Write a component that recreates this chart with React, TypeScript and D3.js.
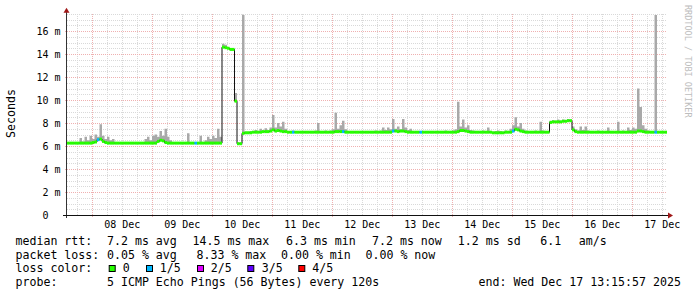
import React from 'react';
import * as d3 from 'd3';

const START = Date.UTC(2025, 11, 7, 13, 53);
const HOUR = 3600000;
const N_HOURS = 240;
const END = START + N_HOURS * HOUR;

// median rtt (ms), one value per hour, rows = 24h starting Dec 7 13:53
const median: number[] = [
  6.25, 6.25, 6.25, 6.25, 6.25, 6.25, 6.25, 6.25, 6.25, 6.25, 6.3, 6.35, 6.55, 6.6, 6.4, 6.3, 6.25, 6.25, 6.25, 6.25, 6.25, 6.25, 6.25, 6.25,
  6.25, 6.25, 6.25, 6.25, 6.25, 6.25, 6.25, 6.25, 6.25, 6.25, 6.25, 6.25, 6.4, 6.5, 6.45, 6.3, 6.25, 6.25, 6.25, 6.25, 6.25, 6.25, 6.25, 6.25,
  6.25, 6.25, 6.25, 6.25, 6.25, 6.25, 6.25, 6.25, 6.25, 6.25, 6.25, 6.25, 6.25, 6.25, 14.6, 14.55, 14.5, 14.4, 14.4, 9.9, 6.2, 6.2, 7.1, 7.15,
  7.15, 7.15, 7.2, 7.2, 7.2, 7.2, 7.25, 7.25, 7.25, 7.3, 7.4, 7.3, 7.35, 7.3, 7.25, 7.25, 7.2, 7.2, 7.2, 7.2, 7.2, 7.2, 7.2, 7.2,
  7.2, 7.2, 7.2, 7.2, 7.2, 7.2, 7.2, 7.2, 7.2, 7.2, 7.2, 7.25, 7.25, 7.25, 7.25, 7.2, 7.2, 7.2, 7.2, 7.2, 7.2, 7.2, 7.2, 7.2,
  7.2, 7.2, 7.2, 7.2, 7.2, 7.2, 7.2, 7.2, 7.2, 7.2, 7.3, 7.3, 7.25, 7.3, 7.3, 7.25, 7.2, 7.2, 7.2, 7.2, 7.2, 7.2, 7.2, 7.2,
  7.2, 7.2, 7.2, 7.2, 7.2, 7.2, 7.2, 7.2, 7.2, 7.2, 7.2, 7.2, 7.25, 7.35, 7.35, 7.3, 7.25, 7.2, 7.2, 7.2, 7.2, 7.2, 7.2, 7.2,
  7.2, 7.2, 7.15, 7.15, 7.15, 7.15, 7.15, 7.2, 7.2, 7.2, 7.3, 7.45, 7.4, 7.3, 7.25, 7.2, 7.2, 7.2, 7.2, 7.2, 7.2, 7.2, 7.2, 7.2,
  7.2, 8.05, 8.1, 8.1, 8.1, 8.1, 8.15, 8.15, 8.2, 8.2, 7.4, 7.25, 7.2, 7.2, 7.2, 7.2, 7.2, 7.2, 7.2, 7.2, 7.2, 7.2, 7.2, 7.2,
  7.2, 7.2, 7.2, 7.2, 7.2, 7.2, 7.2, 7.2, 7.2, 7.2, 7.2, 7.2, 7.3, 7.3, 7.25, 7.2, 7.2, 7.2, 7.2, 7.2, 7.2, 7.2, 7.2, 7.2,
];

// top of the ping smoke (ms), one value per hour
const smokeMax: number[] = [
  6.3, 6.3, 6.35, 6.3, 6.35, 6.7, 6.4, 6.8, 6.5, 6.9, 6.6, 7.0, 6.8, 7.9, 6.9, 6.6, 6.8, 6.5, 6.6, 6.35, 6.3, 6.3, 6.3, 6.35,
  6.3, 6.35, 6.3, 6.3, 6.35, 6.3, 6.35, 6.6, 6.8, 6.5, 6.9, 7.0, 6.8, 7.3, 6.9, 7.5, 6.8, 6.5, 6.35, 6.3, 6.35, 6.3, 6.3, 6.35,
  7.1, 6.35, 6.3, 6.35, 6.3, 6.9, 6.35, 6.5, 6.8, 6.6, 6.9, 6.7, 7.5, 6.8, 14.9, 14.8, 14.6, 14.5, 14.45, 10.6, 6.3, 6.3, 17.4, 7.25,
  7.25, 7.3, 7.3, 7.4, 7.3, 7.5, 7.3, 7.55, 7.35, 7.6, 8.7, 7.6, 8.0, 7.7, 8.1, 7.5, 7.3, 7.3, 7.35, 7.3, 7.3, 7.25, 7.3, 7.3,
  7.3, 7.25, 7.3, 7.35, 8.0, 7.3, 7.3, 7.35, 7.3, 7.35, 7.45, 8.9, 7.5, 7.8, 8.2, 7.45, 7.3, 7.25, 7.3, 7.3, 7.25, 7.3, 7.25, 7.3,
  7.3, 7.25, 7.3, 7.35, 7.3, 7.35, 7.6, 7.4, 7.6, 7.45, 8.35, 7.5, 7.7, 7.45, 8.35, 7.6, 7.4, 7.5, 7.3, 7.25, 7.3, 7.3, 7.25, 7.3,
  7.3, 7.25, 7.3, 7.25, 7.3, 7.25, 7.3, 7.35, 7.3, 7.25, 7.35, 7.45, 9.85, 7.7, 8.3, 7.6, 7.8, 7.4, 7.35, 7.3, 7.25, 7.3, 7.35, 7.3,
  7.6, 7.3, 7.25, 7.3, 7.35, 7.3, 7.25, 7.35, 7.3, 7.5, 7.8, 8.5, 7.7, 8.0, 7.5, 7.35, 7.3, 7.25, 7.3, 7.35, 7.3, 8.1, 7.35, 7.3,
  7.3, 8.2, 8.25, 8.15, 8.3, 8.2, 8.3, 8.25, 8.35, 8.3, 7.7, 7.45, 7.35, 7.7, 7.4, 7.7, 7.35, 7.3, 7.25, 7.3, 7.35, 7.3, 7.25, 7.3,
  7.6, 7.3, 7.25, 7.3, 8.1, 7.3, 7.35, 7.3, 7.6, 7.4, 7.6, 7.5, 11.0, 9.4, 7.8, 7.5, 7.35, 7.3, 7.25, 17.4, 7.3, 7.25, 7.3, 7.25,
];

// hours (index) where 1 of 5 pings was lost
const lossHours: number[] = [12, 51, 90, 110, 130, 141, 178, 235];

const yTicks: number[] = [0, 2, 4, 6, 8, 10, 12, 14, 16];
const yTickLabels: string[] = ['0', '2 m', '4 m', '6 m', '8 m', '10 m', '12 m', '14 m', '16 m'];

const legendHeads: string[] = ['median rtt:', 'packet loss:', 'loss color:', 'probe:'];
const rttStats: string[] = ['7.2 ms avg', '14.5 ms max', '6.3 ms min', '7.2 ms now', '1.2 ms sd', '6.1', 'am/s'];
const lossStats: string[] = ['0.05 % avg', '8.33 % max', '0.00 % min', '0.00 % now'];
const lossLabels: string[] = ['0', '1/5', '2/5', '3/5', '4/5'];
const lossColors: string[] = ['#26ff00', '#00b8ff', '#dd00ff', '#5e00ff', '#ff0000'];
const probeText = '5 ICMP Echo Pings (56 Bytes) every 120s';
const endText = 'end: Wed Dec 17 13:15:57 2025';

const PL = 67, PR = 667, PB = 215, PT = 13.75;
const MONO = '"DejaVu Sans Mono", monospace';

type P = { t: number; m: number; s: number };

export default function App() {
  const x = d3.scaleUtc().domain([new Date(START), new Date(END)]).range([PL, PR]);
  const y = d3.scaleLinear().domain([0, 17.5]).range([PB, PT]);

  const pts: P[] = median.map((m, i) => ({ t: START + i * HOUR, m, s: smokeMax[i] }));
  const ptsEnd: P[] = [...pts, { t: END, m: median[N_HOURS - 1], s: smokeMax[N_HOURS - 1] }];

  const smoke = d3.area<P>()
    .x(d => x(new Date(d.t)))
    .y0(d => y(d.m - 0.05))
    .y1(d => y(d.s))
    .curve(d3.curveStepAfter)(ptsEnd) || '';
  const medLine = d3.line<P>()
    .x(d => x(new Date(d.t)))
    .y(d => y(d.m))
    .curve(d3.curveStepAfter)(ptsEnd) || '';

  const days = d3.utcDay.range(new Date(START), new Date(END));
  const sixH = d3.utcHour.every(6)!.range(new Date(START), new Date(END)).filter(d => d.getUTCHours() !== 0);
  const fmt = d3.utcFormat('%d %b');

  const minorY: number[] = d3.range(1, 36).map(k => k * 0.5).filter(v => v % 2 !== 0);
  const majorY = yTicks.filter(v => v > 0);

  const crisp = (v: number) => Math.round(v) + 0.5;

  const rttX = [107, 192.5, 286, 372, 457.8, 540.2, 578.8];
  const lossX = [107, 196.5, 281, 365.5];
  const boxX = [108.7, 146, 197, 247.3, 298.3];
  const boxLabelX = [122.8, 159.8, 210.8, 261.8, 312.2];
  const rowY = [245, 258.7, 272.3, 286];

  return (
    <svg width={697} height={297} style={{ position: 'absolute', left: 0, top: 0, background: '#fff' }}>
      <rect x={0} y={0} width={697} height={297} fill="#fff" />
      {/* grid */}
      <g shapeRendering="crispEdges" strokeWidth={1}>
        {minorY.map(v => (
          <line key={'my' + v} x1={PL} x2={PR} y1={crisp(y(v))} y2={crisp(y(v))} stroke="#d9d9d9" strokeDasharray="1,1" />
        ))}
        {sixH.map(d => (
          <line key={'mx' + d.getTime()} x1={crisp(x(d))} x2={crisp(x(d))} y1={PB} y2={PT} stroke="#d9d9d9" strokeDasharray="1,1" />
        ))}
        {majorY.map(v => (
          <line key={'My' + v} x1={PL - 2} x2={PR} y1={crisp(y(v))} y2={crisp(y(v))} stroke="#efb0b0" strokeDasharray="1,1" />
        ))}
        {days.map(d => (
          <line key={'Mx' + d.getTime()} x1={crisp(x(d))} x2={crisp(x(d))} y1={PB + 2} y2={PT} stroke="#efb0b0" strokeDasharray="1,1" />
        ))}
      </g>
      {/* smoke */}
      <path d={smoke} fill="#a9a9a9" />
      {/* median line */}
      <path d={medLine} fill="none" stroke="#111" strokeWidth={1} />
      {pts.map((p, i) => (
        <line
          key={'g' + i}
          x1={x(new Date(p.t))}
          x2={x(new Date(p.t + HOUR))}
          y1={y(p.m)}
          y2={y(p.m)}
          stroke={lossHours.includes(i) ? lossColors[1] : lossColors[0]}
          strokeWidth={3}
        />
      ))}
      {/* axes */}
      <g shapeRendering="crispEdges">
        <line x1={PL - 0.5} x2={PL - 0.5} y1={PB + 3} y2={PT - 2} stroke="#333" />
        <line x1={PL - 4} x2={PR + 1} y1={PB + 0.5} y2={PB + 0.5} stroke="#111" />
      </g>
      <path d={`M${PL - 3.5},${PT - 1} L${PL + 2.5},${PT - 1} L${PL - 0.5},${PT - 6} Z`} fill="#a01818" />
      <path d={`M${PR + 1},${PB - 2.5} L${PR + 1},${PB + 3.5} L${PR + 6},${PB + 0.5} Z`} fill="#a01818" />
      {/* y labels */}
      {yTicks.map((v, k) => (
        <text key={'yl' + v} x={v === 0 ? 48.5 : 60.5} y={y(v) + 4} textAnchor="end" fontFamily={MONO} fontSize={10} fill="#000">
          {yTickLabels[k]}
        </text>
      ))}
      {/* x labels */}
      {days.map(d => (
        <text key={'xl' + d.getTime()} x={x(d3.utcHour.offset(d, 12))} y={228} textAnchor="middle" fontFamily={MONO} fontSize={10} fill="#000">
          {fmt(d)}
        </text>
      ))}
      {/* y title */}
      <text transform="translate(15.3,113.5) rotate(-90)" textAnchor="middle" fontFamily={MONO} fontSize={11.6} fill="#000">Seconds</text>
      {/* watermark */}
      <text transform="translate(685,5) rotate(90)" fontFamily={MONO} fontSize={8.5} fill="#bdbdbd">RRDTOOL / TOBI OETIKER</text>
      {/* legend */}
      <g fontFamily={MONO} fontSize={11.6} fill="#000" style={{ whiteSpace: 'pre' }}>
        {legendHeads.map((h, k) => (
          <text key={'lh' + k} x={15.5} y={rowY[k]}>{h}</text>
        ))}
        {rttStats.map((s, k) => (
          <text key={'rs' + k} x={rttX[k]} y={rowY[0]}>{s}</text>
        ))}
        {lossStats.map((s, k) => (
          <text key={'ls' + k} x={lossX[k]} y={rowY[1]}>{s}</text>
        ))}
        {lossLabels.map((s, k) => (
          <g key={'ll' + k}>
            <rect x={boxX[k] + 0.5} y={265.5} width={6} height={6} fill={lossColors[k]} stroke="#000" strokeWidth={1} />
            <text x={boxLabelX[k]} y={rowY[2]}>{s}</text>
          </g>
        ))}
        <text x={107} y={rowY[3]}>{probeText}</text>
        <text x={478.5} y={rowY[3]}>{endText}</text>
      </g>
    </svg>
  );
}
